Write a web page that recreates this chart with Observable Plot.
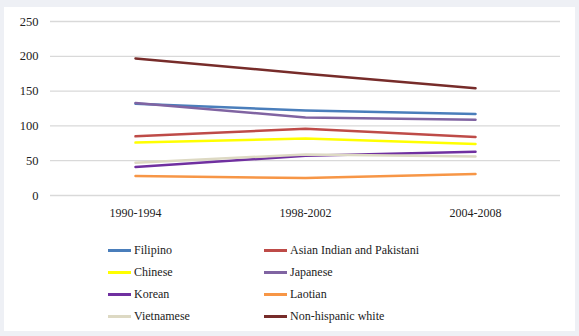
<!DOCTYPE html>
<html>
<head>
<meta charset="utf-8">
<script src="https://cdn.jsdelivr.net/npm/d3@7"></script>
<script src="https://cdn.jsdelivr.net/npm/@observablehq/plot@0.6"></script>
<style>
  html, body { margin: 0; padding: 0; background: #eef0f5; width: 579px; height: 336px; overflow: hidden; }
  #panel { position: absolute; left: 4px; top: 7px; width: 571px; height: 324px; background: #fff; }
  #chart { position: absolute; left: 0; top: 0; }
  .leg { position: absolute; font-family: "Liberation Serif", "Times New Roman", Times, "DejaVu Serif", serif; font-size: 12px; color: #222; white-space: nowrap; line-height: 16px; }
  .leg span.sw { display: inline-block; width: 23px; height: 2.5px; vertical-align: middle; margin-right: 3px; position: relative; top: -1px; }
</style>
</head>
<body>
<div id="panel"><div id="chart"></div></div>
<script>
const periods = ["1990-1994", "1998-2002", "2004-2008"];
const seriesNames = ["Filipino", "Asian Indian and Pakistani", "Chinese", "Japanese", "Korean", "Laotian", "Vietnamese", "Non-hispanic white"];
const seriesColors = ["#4a7ebb", "#be4b48", "#ffff00", "#8064a2", "#7030a0", "#f79646", "#ddd9c3", "#772c2a"];
const filipino = [132, 122, 117];
const asianIndian = [85, 96, 84];
const chinese = [76, 82, 74];
const japanese = [133, 112, 109];
const korean = [41, 57, 63];
const laotian = [28, 25, 31];
const vietnamese = [47, 59, 56];
const nhWhite = [197, 175, 154];
const yTicks = [0, 50, 100, 150, 200, 250];

const valuesBySeries = [filipino, asianIndian, chinese, japanese, korean, laotian, vietnamese, nhWhite];
const data = [];
seriesNames.forEach((s, i) => periods.forEach((p, j) => data.push({series: s, period: p, value: valuesBySeries[i][j]})));

const font = '"Liberation Serif", "Times New Roman", Times, "DejaVu Serif", serif';
const chart = Plot.plot({
  width: 571,
  height: 225,
  marginLeft: 46,
  marginRight: 15,
  marginTop: 14,
  marginBottom: 37,
  style: {fontFamily: font, fontSize: "12px", color: "#222", background: "transparent"},
  x: {type: "point", domain: periods, padding: 0.5, label: null},
  y: {domain: [0, 250], ticks: yTicks, label: null},
  color: {domain: seriesNames, range: seriesColors},
  marks: [
    Plot.gridY(yTicks, {stroke: "#d9d9d9", strokeOpacity: 1, strokeWidth: 1.3}),
    Plot.axisY(yTicks, {tickSize: 0, tickPadding: 12, fontSize: 12.5, label: null, fontFamily: font}),
    Plot.axisX({tickSize: 0, tickPadding: 13, fontSize: 12, label: null, fontFamily: font}),
    Plot.lineY(data, {x: "period", y: "value", z: "series", stroke: "series", strokeWidth: 2.5})
  ]
});
document.getElementById("chart").appendChild(chart);

const panel = document.getElementById("panel");
seriesNames.forEach((s, i) => {
  const col = i % 2, row = Math.floor(i / 2);
  const d = document.createElement("div");
  d.className = "leg";
  d.style.left = (col === 0 ? 104 : 260) + "px";
  d.style.top = (235 + row * 22) + "px";
  d.innerHTML = `<span class="sw" style="background:${seriesColors[i]}"></span>${s}`;
  panel.appendChild(d);
});
</script>
</body>
</html>
